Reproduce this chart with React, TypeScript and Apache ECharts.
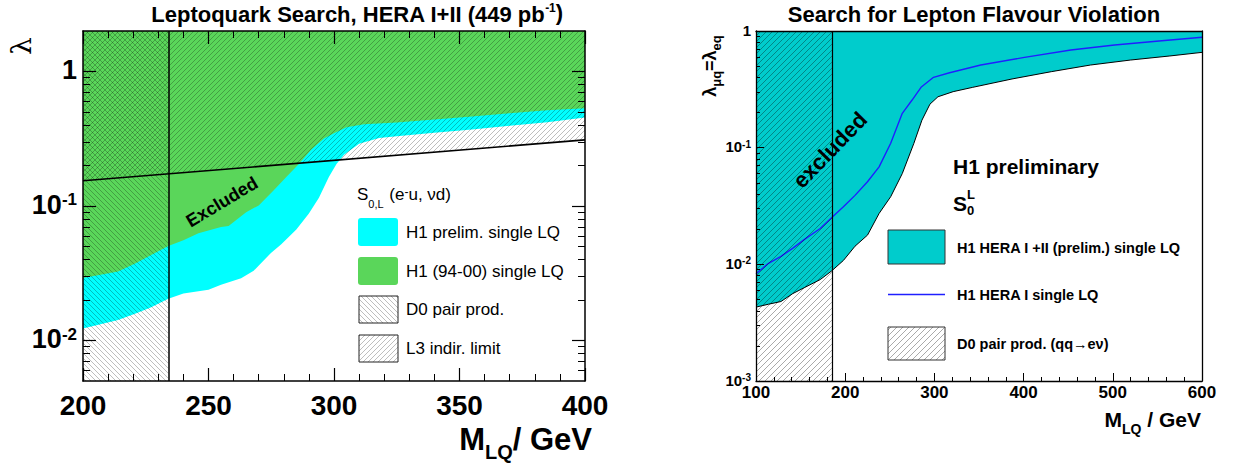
import React, { useEffect, useRef } from 'react';
import * as echarts from 'echarts';

// ---------------- Left panel: Leptoquark Search, HERA I+II ----------------
const lqGreenMass = [200, 207, 214, 221, 227, 234, 240, 246, 255, 258, 265, 270, 276, 281, 286, 291, 296, 300, 305, 312, 325, 340, 355, 370, 385, 400];
const lqGreenLambda = [0.0292, 0.0308, 0.0326, 0.0375, 0.043, 0.0505, 0.0556, 0.0626, 0.0698, 0.071, 0.09, 0.101, 0.131, 0.164, 0.205, 0.263, 0.318, 0.347, 0.385, 0.405, 0.418, 0.44, 0.462, 0.49, 0.515, 0.533];

const lqCyanMass = [200, 207, 214, 221, 227, 234, 240, 250, 255, 263, 268, 275, 279, 285, 290, 294, 298, 301, 304, 310, 318, 325, 340, 355, 370, 385, 400];
const lqCyanLambda = [0.0123, 0.0132, 0.0142, 0.0159, 0.0176, 0.0204, 0.0224, 0.0238, 0.026, 0.029, 0.033, 0.045, 0.052, 0.067, 0.088, 0.115, 0.165, 0.205, 0.24, 0.29, 0.32, 0.33, 0.35, 0.37, 0.395, 0.42, 0.455];

const l3Mass = [200, 400];
const l3Lambda = [0.154, 0.31];

const d0LimitLeft = 234;
const leftMassRange = [200, 400];
const leftLambdaRange = [0.005, 2];
const leftYMajor = [0.01, 0.1, 1];
const leftYMinor = [0.006, 0.007, 0.008, 0.009, 0.02, 0.03, 0.04, 0.05, 0.06, 0.07, 0.08, 0.09, 0.2, 0.3, 0.4, 0.5, 0.6, 0.7, 0.8, 0.9];

// ---------------- Right panel: Lepton Flavour Violation ----------------
const lfvBandMass = [100, 114, 128, 141, 154, 172, 185, 198, 211, 225, 238, 251, 264, 277, 286, 295, 304, 321, 343, 387, 431, 475, 520, 564, 600];
const lfvBandLambda = [0.0043, 0.00455, 0.0048, 0.0056, 0.0063, 0.0074, 0.0088, 0.0108, 0.0143, 0.0178, 0.0273, 0.038, 0.06, 0.109, 0.172, 0.236, 0.273, 0.302, 0.329, 0.388, 0.448, 0.511, 0.564, 0.611, 0.656];

const lfvHeraIMass = [100, 114, 128, 141, 154, 172, 185, 198, 211, 225, 238, 251, 264, 275, 285, 299, 317, 352, 401, 453, 502, 555, 600];
const lfvHeraILambda = [0.0083, 0.0102, 0.0117, 0.0137, 0.0163, 0.0203, 0.0252, 0.0311, 0.039, 0.051, 0.0685, 0.109, 0.197, 0.256, 0.329, 0.401, 0.439, 0.511, 0.594, 0.687, 0.758, 0.826, 0.883];

const d0LimitRight = 185;
const rightMassRange = [100, 600];
const rightLambdaRange = [0.001, 1];
const rightYMajor = [0.001, 0.01, 0.1, 1];
const rightYMinor = [0.002, 0.003, 0.004, 0.005, 0.006, 0.007, 0.008, 0.009, 0.02, 0.03, 0.04, 0.05, 0.06, 0.07, 0.08, 0.09, 0.2, 0.3, 0.4, 0.5, 0.6, 0.7, 0.8, 0.9];

const FONT = "'Liberation Sans', Arial, Helvetica, sans-serif";
const HATCH_LEFT = 'rgba(0,0,0,0.32)';
const HATCH_RIGHT = 'rgba(0,0,0,0.42)';

function zip(xs: number[], ys: number[]) {
  return xs.map((x, i) => [x, ys[i]]);
}

function hatch(size: number, dir: '/' | '\\', color: string, width: number) {
  const c = document.createElement('canvas');
  c.width = size;
  c.height = size;
  const ctx = c.getContext('2d')!;
  ctx.strokeStyle = color;
  ctx.lineWidth = width;
  ctx.beginPath();
  if (dir === '/') {
    ctx.moveTo(-1, size + 1); ctx.lineTo(size + 1, -1);
    ctx.moveTo(-1, 1); ctx.lineTo(1, -1);
    ctx.moveTo(size - 1, size + 1); ctx.lineTo(size + 1, size - 1);
  } else {
    ctx.moveTo(-1, -1); ctx.lineTo(size + 1, size + 1);
    ctx.moveTo(size - 1, -1); ctx.lineTo(size + 1, 1);
    ctx.moveTo(-1, size - 1); ctx.lineTo(1, size + 1);
  }
  ctx.stroke();
  return { image: c, repeat: 'repeat', imageWidth: size, imageHeight: size } as any;
}

function logLabel(v: number) {
  const e = Math.round(Math.log10(v));
  return e === 0 ? '{b|1}' : `{b|10}{s|${e}}`;
}

export default function App() {
  const ref = useRef<HTMLDivElement>(null);

  useEffect(() => {
    if (!ref.current) return;
    const chart = echarts.init(ref.current, null, { renderer: 'svg' });

    const noSplit = { splitLine: { show: false }, minorSplitLine: { show: false } };

    const leftXCommon = {
      gridIndex: 0, type: 'value', min: leftMassRange[0], max: leftMassRange[1], interval: 50, z: 10,
      axisLine: { show: true, onZero: false, lineStyle: { color: '#000', width: 1.5 } },
      axisTick: { show: true, inside: true, length: 13, lineStyle: { color: '#000', width: 1.2 } },
      minorTick: { show: true, splitNumber: 5, length: 7, lineStyle: { color: '#000', width: 1 } },
      ...noSplit,
    };
    const leftYCommon = {
      gridIndex: 0, type: 'log', min: leftLambdaRange[0], max: leftLambdaRange[1], z: 10, ...noSplit,
    };
    const rightYCommon = {
      gridIndex: 1, type: 'log', min: rightLambdaRange[0], max: rightLambdaRange[1], z: 10, ...noSplit,
    };

    const option: any = {
      animation: false,
      backgroundColor: '#fff',
      textStyle: { fontFamily: FONT },
      grid: [
        { left: 83, top: 31, width: 502, height: 350, outerBoundsMode: 'none', containLabel: false },
        { left: 756, top: 31, width: 446, height: 350, outerBoundsMode: 'none', containLabel: false },
      ],
      xAxis: [
        {
          ...leftXCommon, position: 'bottom',
          axisLabel: { show: true, fontFamily: FONT, fontSize: 28, fontWeight: 'bold', color: '#000', margin: 10 },
        },
        { ...leftXCommon, position: 'top', axisLabel: { show: false } },
        {
          gridIndex: 1, type: 'value', min: rightMassRange[0], max: rightMassRange[1], interval: 100, position: 'bottom', z: 10,
          axisLine: { show: true, onZero: false, lineStyle: { color: '#000', width: 1.3 } },
          axisTick: { show: true, inside: true, length: 8, lineStyle: { color: '#000', width: 1 } },
          minorTick: { show: true, splitNumber: 5, length: 4, lineStyle: { color: '#000', width: 1 } },
          axisLabel: { show: true, fontFamily: FONT, fontSize: 17, fontWeight: 'bold', color: '#000', margin: 3 },
          ...noSplit,
        },
        {
          gridIndex: 1, type: 'value', min: rightMassRange[0], max: rightMassRange[1], interval: 100, position: 'top', z: 10,
          axisLine: { show: true, onZero: false, lineStyle: { color: '#000', width: 1.3 } },
          axisTick: { show: false }, axisLabel: { show: false }, ...noSplit,
        },
      ],
      yAxis: [
        {
          ...leftYCommon, position: 'left',
          axisLine: { show: true, onZero: false, lineStyle: { color: '#000', width: 1.5 } },
          axisTick: { show: true, inside: true, length: 13, customValues: leftYMajor, lineStyle: { color: '#000', width: 1.2 } },
          axisLabel: {
            show: true, customValues: leftYMajor, margin: 6, formatter: logLabel, color: '#000',
            rich: {
              b: { fontFamily: FONT, fontSize: 27, fontWeight: 'bold', lineHeight: 30, verticalAlign: 'top', color: '#000' },
              s: { fontFamily: FONT, fontSize: 17, fontWeight: 'bold', lineHeight: 17, verticalAlign: 'top', color: '#000' },
            },
          },
        },
        {
          ...leftYCommon, position: 'left', axisLine: { show: false }, axisLabel: { show: false },
          axisTick: { show: true, inside: true, length: 7, customValues: leftYMinor, lineStyle: { color: '#000', width: 1 } },
        },
        {
          ...leftYCommon, position: 'right', axisLabel: { show: false },
          axisLine: { show: true, onZero: false, lineStyle: { color: '#000', width: 1.5 } },
          axisTick: { show: true, inside: true, length: 13, customValues: leftYMajor, lineStyle: { color: '#000', width: 1.2 } },
        },
        {
          ...leftYCommon, position: 'right', axisLine: { show: false }, axisLabel: { show: false },
          axisTick: { show: true, inside: true, length: 7, customValues: leftYMinor, lineStyle: { color: '#000', width: 1 } },
        },
        {
          ...rightYCommon, position: 'left',
          axisLine: { show: true, onZero: false, lineStyle: { color: '#000', width: 1.3 } },
          axisTick: { show: true, inside: true, length: 8, customValues: rightYMajor, lineStyle: { color: '#000', width: 1 } },
          axisLabel: {
            show: true, customValues: rightYMajor, margin: 5, formatter: logLabel, color: '#000',
            rich: {
              b: { fontFamily: FONT, fontSize: 15, fontWeight: 'bold', lineHeight: 17, verticalAlign: 'top', color: '#000' },
              s: { fontFamily: FONT, fontSize: 10, fontWeight: 'bold', lineHeight: 10, verticalAlign: 'top', color: '#000' },
            },
          },
        },
        {
          ...rightYCommon, position: 'left', axisLine: { show: false }, axisLabel: { show: false },
          axisTick: { show: true, inside: true, length: 4, customValues: rightYMinor, lineStyle: { color: '#000', width: 1 } },
        },
        {
          ...rightYCommon, position: 'right', axisLabel: { show: false }, axisTick: { show: false },
          axisLine: { show: true, onZero: false, lineStyle: { color: '#000', width: 1.3 } },
        },
      ],
      series: [
        // ----- left panel -----
        {
          name: 'H1 prelim. single LQ', type: 'line', xAxisIndex: 0, yAxisIndex: 0, z: 2, silent: true,
          data: zip(lqCyanMass, lqCyanLambda), symbol: 'none', showSymbol: false,
          lineStyle: { width: 0, opacity: 0 }, areaStyle: { color: '#00ffff', opacity: 1, origin: 'end' },
        },
        {
          name: 'H1 (94-00) single LQ', type: 'line', xAxisIndex: 0, yAxisIndex: 0, z: 3, silent: true,
          data: zip(lqGreenMass, lqGreenLambda), symbol: 'none', showSymbol: false,
          lineStyle: { width: 0, opacity: 0 }, areaStyle: { color: '#5ad65a', opacity: 1, origin: 'end' },
        },
        {
          name: 'L3 indir. limit', type: 'line', xAxisIndex: 0, yAxisIndex: 0, z: 4, silent: true,
          data: zip(l3Mass, l3Lambda), symbol: 'none', showSymbol: false,
          lineStyle: { width: 1.6, color: '#000' },
          areaStyle: { color: hatch(5, '/', HATCH_LEFT, 0.8), opacity: 1, origin: 'end' },
        },
        {
          name: 'D0 pair prod.', type: 'line', xAxisIndex: 0, yAxisIndex: 0, z: 5, silent: true,
          data: [[leftMassRange[0], leftLambdaRange[1]], [d0LimitLeft, leftLambdaRange[1]]], symbol: 'none', showSymbol: false,
          lineStyle: { width: 0, opacity: 0 },
          areaStyle: { color: hatch(5, '\\', HATCH_LEFT, 0.8), opacity: 1, origin: 'start' },
          markLine: {
            silent: true, symbol: ['none', 'none'], label: { show: false },
            lineStyle: { color: '#000', width: 1.5, type: 'solid' },
            data: [{ xAxis: d0LimitLeft }],
          },
        },
        // ----- right panel -----
        {
          name: 'H1 HERA I +II (prelim.) single LQ', type: 'line', xAxisIndex: 2, yAxisIndex: 4, z: 2, silent: true,
          data: zip(lfvBandMass, lfvBandLambda), symbol: 'none', showSymbol: false,
          lineStyle: { width: 1, color: '#000' }, areaStyle: { color: '#00cccc', opacity: 1, origin: 'end' },
        },
        {
          name: 'H1 HERA I single LQ', type: 'line', xAxisIndex: 2, yAxisIndex: 4, z: 3, silent: true,
          data: zip(lfvHeraIMass, lfvHeraILambda), symbol: 'none', showSymbol: false,
          lineStyle: { width: 1.4, color: '#1f1fff' },
        },
        {
          name: 'D0 pair prod. (qq→eν)', type: 'line', xAxisIndex: 2, yAxisIndex: 4, z: 4, silent: true,
          data: [[rightMassRange[0], rightLambdaRange[1]], [d0LimitRight, rightLambdaRange[1]]], symbol: 'none', showSymbol: false,
          lineStyle: { width: 0, opacity: 0 },
          areaStyle: { color: hatch(6, '/', HATCH_RIGHT, 0.8), opacity: 1, origin: 'start' },
          markLine: {
            silent: true, symbol: ['none', 'none'], label: { show: false },
            lineStyle: { color: '#000', width: 1.2, type: 'solid' },
            data: [{ xAxis: d0LimitRight }],
          },
        },
      ],
      graphic: [
        // titles
        {
          type: 'text', x: 357, y: 14, z: 20,
          style: {
            text: 'Leptoquark Search, HERA I+II (449 pb{sup|-1}{t|)}', align: 'center', verticalAlign: 'middle',
            font: `bold 22px ${FONT}`, fill: '#000',
            rich: {
              sup: { fontFamily: FONT, fontSize: 12, fontWeight: 'bold', lineHeight: 12, verticalAlign: 'top', fill: '#000' },
              t: { fontFamily: FONT, fontSize: 22, fontWeight: 'bold', lineHeight: 25, verticalAlign: 'top', fill: '#000' },
            },
          },
        },
        {
          type: 'text', x: 974, y: 14, z: 20,
          style: { text: 'Search for Lepton Flavour Violation', align: 'center', verticalAlign: 'middle', font: `bold 22px ${FONT}`, fill: '#000' },
        },
        // left axis titles
        {
          type: 'text', x: 21, y: 46, rotation: Math.PI / 2, z: 20,
          style: { text: 'λ', align: 'center', verticalAlign: 'middle', font: `28px 'DejaVu Serif', 'Liberation Serif', serif`, fill: '#000' },
        },
        {
          type: 'text', x: 592, y: 424, z: 20,
          style: {
            text: '{b|M}{sub|LQ}{b|/ GeV}', align: 'right', verticalAlign: 'top',
            rich: {
              b: { fontFamily: FONT, fontSize: 31, fontWeight: 'bold', lineHeight: 31, verticalAlign: 'top', fill: '#000' },
              sub: { fontFamily: FONT, fontSize: 20, fontWeight: 'bold', lineHeight: 20, verticalAlign: 'top', padding: [18, 0, 0, 0], fill: '#000' },
            },
          },
        },
        // right axis titles
        {
          type: 'text', x: 1201, y: 409, z: 20,
          style: {
            text: '{b|M}{sub|LQ}{b| / GeV}', align: 'right', verticalAlign: 'top',
            rich: {
              b: { fontFamily: FONT, fontSize: 21, fontWeight: 'bold', lineHeight: 21, verticalAlign: 'top', fill: '#000' },
              sub: { fontFamily: FONT, fontSize: 14, fontWeight: 'bold', lineHeight: 14, verticalAlign: 'top', padding: [13, 0, 0, 0], fill: '#000' },
            },
          },
        },
        {
          type: 'text', x: 710, y: 66, rotation: Math.PI / 2, z: 20,
          style: {
            text: '{b|λ}{sub|μq}{b|=λ}{sub|eq}', align: 'center', verticalAlign: 'middle',
            rich: {
              b: { fontFamily: FONT, fontSize: 18, fontWeight: 'bold', lineHeight: 18, verticalAlign: 'top', fill: '#000' },
              sub: { fontFamily: FONT, fontSize: 13, fontWeight: 'bold', lineHeight: 13, verticalAlign: 'top', padding: [9, 0, 0, 0], fill: '#000' },
            },
          },
        },
        // annotations
        {
          type: 'text', x: 222, y: 202, rotation: (31 * Math.PI) / 180, z: 20,
          style: { text: 'Excluded', align: 'center', verticalAlign: 'middle', font: `bold 18px ${FONT}`, fill: '#000' },
        },
        {
          type: 'text', x: 830, y: 150, rotation: (46 * Math.PI) / 180, z: 20,
          style: { text: 'excluded', align: 'center', verticalAlign: 'middle', font: `bold 22px ${FONT}`, fill: '#000' },
        },
        // left legend
        {
          type: 'text', x: 357, y: 186, z: 20,
          style: {
            text: '{n|S}{sub|0,L}{n| (e}{sup|-}{n|u, νd)}', align: 'left', verticalAlign: 'top',
            rich: {
              n: { fontFamily: FONT, fontSize: 17, lineHeight: 18, verticalAlign: 'top', fill: '#000' },
              sub: { fontFamily: FONT, fontSize: 11, lineHeight: 11, verticalAlign: 'top', padding: [12, 1, 0, 0], fill: '#000' },
              sup: { fontFamily: FONT, fontSize: 12, lineHeight: 8, verticalAlign: 'top', fill: '#000' },
            },
          },
        },
        { type: 'rect', z: 20, shape: { x: 358, y: 218, width: 40, height: 28, r: 3 }, style: { fill: '#00ffff' } },
        { type: 'text', x: 406, y: 232, z: 20, style: { text: 'H1 prelim. single LQ', align: 'left', verticalAlign: 'middle', font: `17px ${FONT}`, fill: '#000' } },
        { type: 'rect', z: 20, shape: { x: 358, y: 257, width: 40, height: 28, r: 3 }, style: { fill: '#5ad65a' } },
        { type: 'text', x: 406, y: 271, z: 20, style: { text: 'H1 (94-00) single LQ', align: 'left', verticalAlign: 'middle', font: `17px ${FONT}`, fill: '#000' } },
        { type: 'rect', z: 20, shape: { x: 359, y: 296, width: 39, height: 27 }, style: { fill: hatch(5, '\\', HATCH_LEFT, 0.8), stroke: '#222', lineWidth: 1 } },
        { type: 'text', x: 406, y: 309.5, z: 20, style: { text: 'D0 pair prod.', align: 'left', verticalAlign: 'middle', font: `17px ${FONT}`, fill: '#000' } },
        { type: 'rect', z: 20, shape: { x: 359, y: 335, width: 39, height: 27 }, style: { fill: hatch(5, '/', HATCH_LEFT, 0.8), stroke: '#222', lineWidth: 1 } },
        { type: 'text', x: 406, y: 348.5, z: 20, style: { text: 'L3 indir. limit', align: 'left', verticalAlign: 'middle', font: `17px ${FONT}`, fill: '#000' } },
        // right legend
        { type: 'text', x: 953, y: 166, z: 20, style: { text: 'H1 preliminary', align: 'left', verticalAlign: 'middle', font: `bold 21px ${FONT}`, fill: '#000' } },
        { type: 'text', x: 953, y: 203, z: 20, style: { text: 'S', align: 'left', verticalAlign: 'middle', font: `bold 21px ${FONT}`, fill: '#000' } },
        { type: 'text', x: 967, y: 194, z: 20, style: { text: 'L', align: 'left', verticalAlign: 'middle', font: `bold 13px ${FONT}`, fill: '#000' } },
        { type: 'text', x: 967, y: 210, z: 20, style: { text: '0', align: 'left', verticalAlign: 'middle', font: `bold 13px ${FONT}`, fill: '#000' } },
        { type: 'rect', z: 20, shape: { x: 888, y: 230, width: 57, height: 34 }, style: { fill: '#00cccc', stroke: '#333', lineWidth: 1 } },
        { type: 'text', x: 957, y: 247.5, z: 20, style: { text: 'H1 HERA I +II (prelim.) single LQ', align: 'left', verticalAlign: 'middle', font: `bold 14.5px ${FONT}`, fill: '#000' } },
        { type: 'line', z: 20, shape: { x1: 888, y1: 294.5, x2: 945, y2: 294.5 }, style: { stroke: '#1f1fff', lineWidth: 1.6 } },
        { type: 'text', x: 957, y: 294.5, z: 20, style: { text: 'H1 HERA I single LQ', align: 'left', verticalAlign: 'middle', font: `bold 14.5px ${FONT}`, fill: '#000' } },
        { type: 'rect', z: 20, shape: { x: 888, y: 327, width: 57, height: 33 }, style: { fill: hatch(6, '/', HATCH_RIGHT, 0.8), stroke: '#333', lineWidth: 1 } },
        { type: 'text', x: 957, y: 343.5, z: 20, style: { text: 'D0 pair prod. (qq→eν)', align: 'left', verticalAlign: 'middle', font: `bold 14.5px ${FONT}`, fill: '#000' } },
      ],
    };

    chart.setOption(option);
    return () => chart.dispose();
  }, []);

  return (
    <div
      ref={ref}
      style={{ position: 'fixed', left: 0, top: 0, width: 1235, height: 466, background: '#fff' }}
    />
  );
}
